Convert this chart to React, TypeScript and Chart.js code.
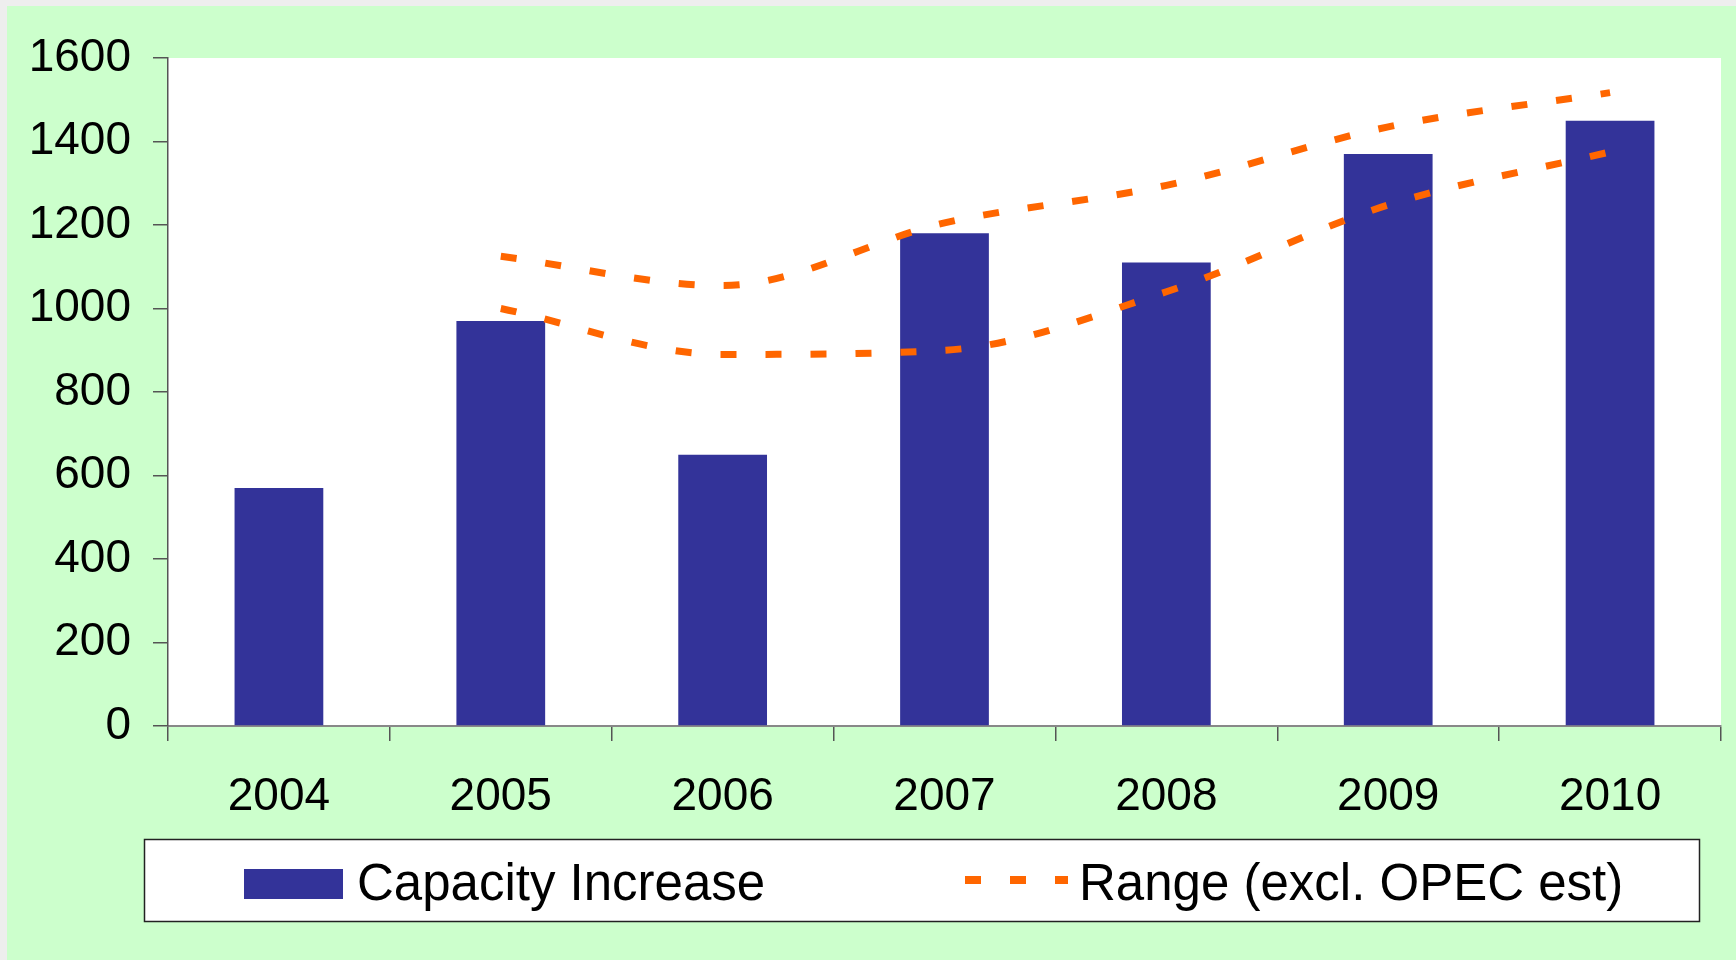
import React, { useEffect, useRef } from 'react';
import { Chart, registerables } from 'chart.js';

Chart.register(...registerables);

// ---- data ----
const categories = ['2004', '2005', '2006', '2007', '2008', '2009', '2010'];
const capacityIncrease = [570, 970, 650, 1180, 1110, 1370, 1450];
const rangeHigh = [null, 1125, 1055, 1205, 1295, 1435, 1517];
const rangeLow = [null, 1000, 890, 900, 1040, 1248, 1375];
const seriesLabels = ['Capacity Increase', 'Range (excl. OPEC est)'];
const yMin = 0;
const yMax = 1600;
const yStep = 200;

// ---- styles ----
const FONT = "'Liberation Sans', Arial, sans-serif";
const BAR_COLOR = '#333399';
const LINE_COLOR = '#FF6600';
const PANEL_GREEN = '#CCFFCC';
const AXIS_COLOR = '#555555';

const W = 1736;
const H = 960;

const backgroundPlugin = {
  id: 'slideBackground',
  beforeDraw(chart: any) {
    const { ctx, chartArea } = chart;
    ctx.save();
    ctx.fillStyle = '#eeeeee';
    ctx.fillRect(0, 0, W, H);
    ctx.fillStyle = PANEL_GREEN;
    ctx.fillRect(7, 6, W - 7, H - 6);
    ctx.fillStyle = '#ffffff';
    ctx.fillRect(chartArea.left, chartArea.top, chartArea.right - chartArea.left, chartArea.bottom - chartArea.top);
    ctx.restore();
  },
};

const boxLegendPlugin = {
  id: 'boxLegend',
  afterDraw(chart: any) {
    const { ctx } = chart;
    const ds = chart.data.datasets;
    ctx.save();
    // box
    ctx.fillStyle = '#ffffff';
    ctx.fillRect(144, 839, 1556, 83);
    ctx.strokeStyle = '#222222';
    ctx.lineWidth = 1.5;
    ctx.strokeRect(144.5, 839.5, 1555, 82);
    // bar item
    ctx.fillStyle = ds[0].backgroundColor;
    ctx.fillRect(244, 869, 99, 30);
    ctx.font = `51px ${FONT}`;
    ctx.fillStyle = '#000000';
    ctx.textBaseline = 'alphabetic';
    ctx.textAlign = 'left';
    ctx.fillText(ds[0].label, 357, 900);
    // line item
    ctx.strokeStyle = ds[1].borderColor;
    ctx.lineWidth = 8;
    ctx.lineCap = 'butt';
    ctx.setLineDash([16, 29]);
    ctx.beginPath();
    ctx.moveTo(965, 880);
    ctx.lineTo(1068, 880);
    ctx.stroke();
    ctx.setLineDash([]);
    ctx.fillText(ds[1].label, 1079, 900);
    ctx.restore();
  },
};

export default function App() {
  const canvasRef = useRef<HTMLCanvasElement | null>(null);

  useEffect(() => {
    if (!canvasRef.current) return;
    const lineCommon = {
      type: 'line' as const,
      borderColor: LINE_COLOR,
      backgroundColor: LINE_COLOR,
      borderWidth: 7,
      borderDash: [16, 29],
      borderCapStyle: 'butt' as const,
      pointRadius: 0,
      pointHoverRadius: 0,
      cubicInterpolationMode: 'monotone' as const,
      fill: false,
      order: 1,
    };
    const chart = new Chart(canvasRef.current, {
      type: 'bar',
      data: {
        labels: categories,
        datasets: [
          {
            type: 'bar',
            label: seriesLabels[0],
            data: capacityIncrease,
            backgroundColor: BAR_COLOR,
            borderWidth: 0,
            barPercentage: 0.4,
            categoryPercentage: 1,
            order: 2,
          },
          { ...lineCommon, label: seriesLabels[1], data: rangeHigh },
          { ...lineCommon, label: seriesLabels[1], data: rangeLow },
        ] as any,
      },
      options: {
        responsive: false,
        animation: false,
        events: [],
        layout: { padding: { top: 58, right: 15, left: 0, bottom: 0 } },
        plugins: {
          legend: { display: false },
          tooltip: { enabled: false },
          title: { display: false },
        },
        scales: {
          x: {
            type: 'category',
            grid: {
              display: true,
              drawOnChartArea: false,
              drawTicks: true,
              tickLength: 15,
              color: AXIS_COLOR,
              lineWidth: 1.5,
              offset: true,
            },
            border: { display: true, color: '#888888', width: 2 },
            ticks: {
              color: '#000000',
              font: { family: FONT, size: 46 },
              padding: 29,
              maxRotation: 0,
              autoSkip: false,
            },
            afterFit(scale: any) {
              scale.height = 234;
            },
          },
          y: {
            type: 'linear',
            min: yMin,
            max: yMax,
            grid: {
              display: true,
              drawOnChartArea: false,
              drawTicks: true,
              tickLength: 15,
              color: AXIS_COLOR,
              lineWidth: 1.5,
            },
            border: { display: true, color: AXIS_COLOR, width: 1.5 },
            ticks: {
              stepSize: yStep,
              color: '#000000',
              font: { family: FONT, size: 46 },
              padding: 22,
              callback: (v: any) => String(v),
            },
            afterFit(scale: any) {
              scale.width = 168;
            },
          },
        },
      },
      plugins: [backgroundPlugin, boxLegendPlugin],
    });
    return () => chart.destroy();
  }, []);

  return (
    <div style={{ position: 'absolute', left: 0, top: 0, width: W, height: H }}>
      <canvas ref={canvasRef} width={W} height={H} style={{ display: 'block', width: W, height: H }} />
    </div>
  );
}
